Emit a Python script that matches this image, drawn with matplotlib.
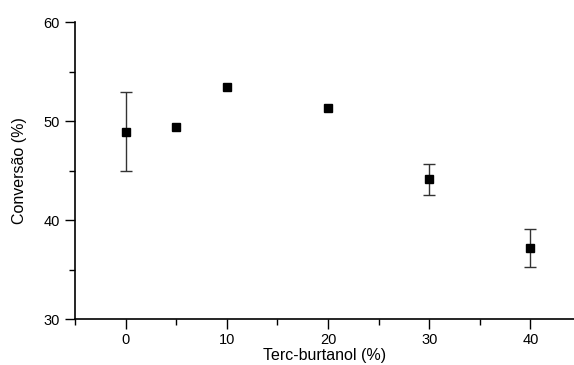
import matplotlib.pyplot as plt
from matplotlib.ticker import MultipleLocator

plt.rcParams['font.family'] = ['Liberation Sans', 'DejaVu Sans']

tbutanol = [0, 5, 10, 20, 30, 40]
conversao = [48.9, 49.35, 53.45, 51.35, 44.1, 37.2]
erro = [4.0, 0, 0, 0, 1.55, 1.9]

fig = plt.figure(figsize=(5.74, 3.65), dpi=100)
ax = fig.add_axes([0.1307, 0.126, 0.8693, 0.8137])

# error bars only where an error was reported
idx = [i for i, e in enumerate(erro) if e > 0]
ax.errorbar([tbutanol[i] for i in idx], [conversao[i] for i in idx],
            yerr=[erro[i] for i in idx], fmt='none',
            ecolor='#333333', elinewidth=1, capsize=4, capthick=1)
ax.plot(tbutanol, conversao, 's', color='black', ms=6)

ax.set_xlim(-5, 44.3)
ax.set_ylim(30, 60)
ax.xaxis.set_major_locator(MultipleLocator(10))
ax.xaxis.set_minor_locator(MultipleLocator(5))
ax.yaxis.set_major_locator(MultipleLocator(10))
ax.yaxis.set_minor_locator(MultipleLocator(5))
ax.spines['top'].set_visible(False)
ax.spines['right'].set_visible(False)
for s in ['left', 'bottom']:
    ax.spines[s].set_linewidth(1.2)
ax.tick_params(which='major', direction='out', length=7, width=1, labelsize=10.5)
ax.tick_params(axis='y', pad=4)
ax.tick_params(axis='x', pad=3)
ax.tick_params(which='minor', direction='out', length=4, width=1)

ax.set_xlabel('Terc-burtanol (%)', fontsize=11.5, labelpad=1)
ax.set_ylabel('Conversão (%)', fontsize=11.5, labelpad=12)

fig.savefig('out.png', dpi=100)
